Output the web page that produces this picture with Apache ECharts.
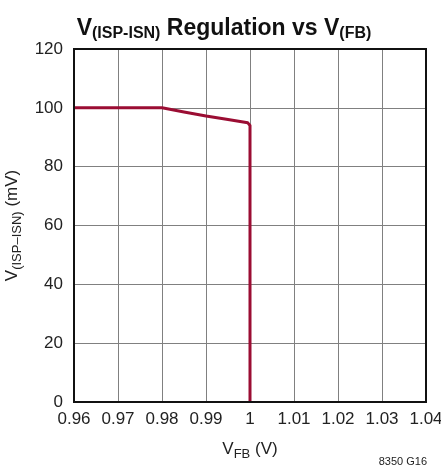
<!DOCTYPE html>
<html>
<head>
<meta charset="utf-8">
<script src="https://cdn.jsdelivr.net/npm/echarts@6/dist/echarts.min.js"></script>
<style>
  html, body { margin: 0; padding: 0; background: #fff; }
  #chart { width: 441px; height: 471px; }
</style>
</head>
<body>
<div id="chart"></div>
<script>
// Data
const vfb = [0.96, 0.97, 0.98, 0.985, 0.99, 0.995, 0.9995, 1.0, 1.0, 1.0];
const vSense = [100, 100, 100, 98.6, 97.2, 96.0, 94.9, 94.0, 92.5, 0];
const xTicks = [0.96, 0.97, 0.98, 0.99, 1, 1.01, 1.02, 1.03, 1.04];
const yTicks = [0, 20, 40, 60, 80, 100, 120];

const font = '"Liberation Sans Narrow", "Liberation Sans", Arial, sans-serif';

const chart = echarts.init(document.getElementById('chart'));

const option = {
    animation: false,
    title: {
        text: '{v|V}{s|(ISP-ISN)}{v| Regulation vs V}{s|(FB)}',
        left: 219,
        textAlign: 'center',
        top: 5,
        textStyle: {
            rich: {
                v: { fontFamily: font, fontWeight: 'bold', fontSize: 23, color: '#111', verticalAlign: 'bottom', lineHeight: 30 },
                s: { fontFamily: font, fontWeight: 'bold', fontSize: 16, color: '#111', verticalAlign: 'bottom', lineHeight: 22, padding: [0, 0, -2, 0] }
            }
        }
    },
    grid: { left: 74, right: 15, top: 49, bottom: 69, outerBoundsMode: 'none', containLabel: false },
    xAxis: {
        type: 'value',
        min: xTicks[0],
        max: xTicks[xTicks.length - 1],
        interval: 0.01,
        axisLine: { show: false },
        axisTick: { show: false },
        axisLabel: {
            fontFamily: font, fontSize: 17, color: '#222', margin: 9,
            formatter: v => String(xTicks.find(t => Math.abs(t - v) < 1e-6) ?? '')
        },
        splitLine: { show: true, showMinLine: false, showMaxLine: false, lineStyle: { color: '#808080', width: 1 } },
        name: '{v|V}{s|FB}{v| (V)}',
        nameLocation: 'middle',
        nameGap: 36,
        nameTextStyle: {
            rich: {
                v: { fontFamily: font, fontSize: 17, color: '#222', verticalAlign: 'bottom', lineHeight: 20 },
                s: { fontFamily: font, fontSize: 13, color: '#222', verticalAlign: 'bottom', lineHeight: 14, padding: [0, 0, -3, 0] }
            }
        }
    },
    yAxis: {
        type: 'value',
        min: yTicks[0],
        max: yTicks[yTicks.length - 1],
        interval: 20,
        axisLine: { show: false },
        axisTick: { show: false },
        axisLabel: { fontFamily: font, fontSize: 17, color: '#222', margin: 11 },
        splitLine: { show: true, showMinLine: false, showMaxLine: false, lineStyle: { color: '#808080', width: 1 } },
        name: '{v|V}{s|(ISP–ISN)}{v| (mV)}',
        nameLocation: 'middle',
        nameGap: 44,
        nameTextStyle: {
            rich: {
                v: { fontFamily: font, fontSize: 17, color: '#222', verticalAlign: 'bottom', lineHeight: 20 },
                s: { fontFamily: font, fontSize: 13, color: '#222', verticalAlign: 'bottom', lineHeight: 14, padding: [0, 0, -3, 0] }
            }
        }
    },
    series: [{
        type: 'line',
        data: vfb.map((x, i) => [x, vSense[i]]),
        showSymbol: false,
        lineStyle: { color: '#9b0d33', width: 3, join: 'round' },
        z: 5
    }],
    graphic: [
        // plot frame
        { type: 'rect', shape: { x: 74, y: 49, width: 352, height: 353 }, style: { fill: 'none', stroke: '#111', lineWidth: 2 }, z: 10, silent: true },
        { type: 'text', right: 14, bottom: 4, style: { text: '8350 G16', fontFamily: font, fontSize: 11, fill: '#222' } }
    ]
};

chart.setOption(option);
</script>
</body>
</html>
